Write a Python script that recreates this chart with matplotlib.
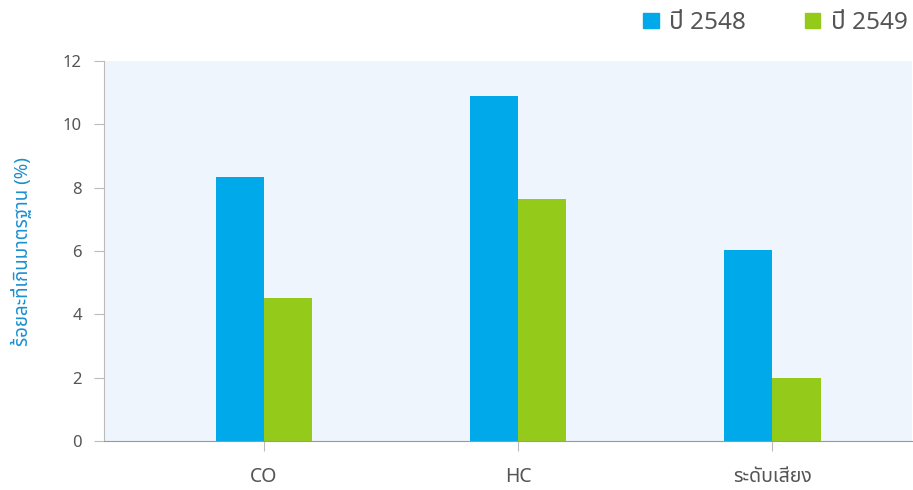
import numpy as np
import matplotlib
matplotlib.use("Agg")
import matplotlib.pyplot as plt
from matplotlib.patches import Patch

plt.rcParams['font.family'] = ['Noto Sans Thai', 'Noto Sans', 'DejaVu Sans']

categories = ['CO', 'HC', 'ระดับเสียง']
series_names = ['ปี 2548', 'ปี 2549']
y2548 = [8.33, 10.9, 6.03]
y2549 = [4.52, 7.64, 1.99]
colors = ['#00a9e9', '#94cb1a']

fig = plt.figure(figsize=(9.13, 4.9), dpi=100)
ax = fig.add_axes([104 / 913, 49 / 490, 808 / 913, 380 / 490])
ax.set_facecolor('#eef5fc')

x = np.arange(len(categories))
w = 0.19
ax.bar(x - w / 2, y2548, w, color=colors[0], zorder=2)
ax.bar(x + w / 2, y2549, w, color=colors[1], zorder=2)

ax.set_xlim(-0.63, 2.55)
ax.set_ylim(0, 12)
ax.set_yticks(range(0, 13, 2))
ax.set_xticks(x)
ax.set_xticklabels(categories)

for s in ['top', 'right']:
    ax.spines[s].set_visible(False)
ax.spines['left'].set_color('#bbbbbb')
ax.spines['bottom'].set_color('#999999')
ax.tick_params(axis='y', length=7, color='#bbbbbb', labelsize=12,
               labelcolor='#555555', pad=9)
ax.tick_params(axis='x', length=7, color='#bbbbbb', labelsize=14,
               labelcolor='#555555', pad=12)

ax.set_ylabel('ร้อยละที่เกินมาตรฐาน (%)', color='#1a8fd1', fontsize=13.5,
              labelpad=22)

handles = [Patch(color=c) for c in colors]
fig.legend(handles, series_names, loc='upper right', bbox_to_anchor=(1.018, 1.022),
           ncol=2, frameon=False, fontsize=17.5, labelcolor='#555555',
           handlelength=0.62, handleheight=0.62, handletextpad=0.45,
           columnspacing=2.4)

fig.savefig('out.png')
